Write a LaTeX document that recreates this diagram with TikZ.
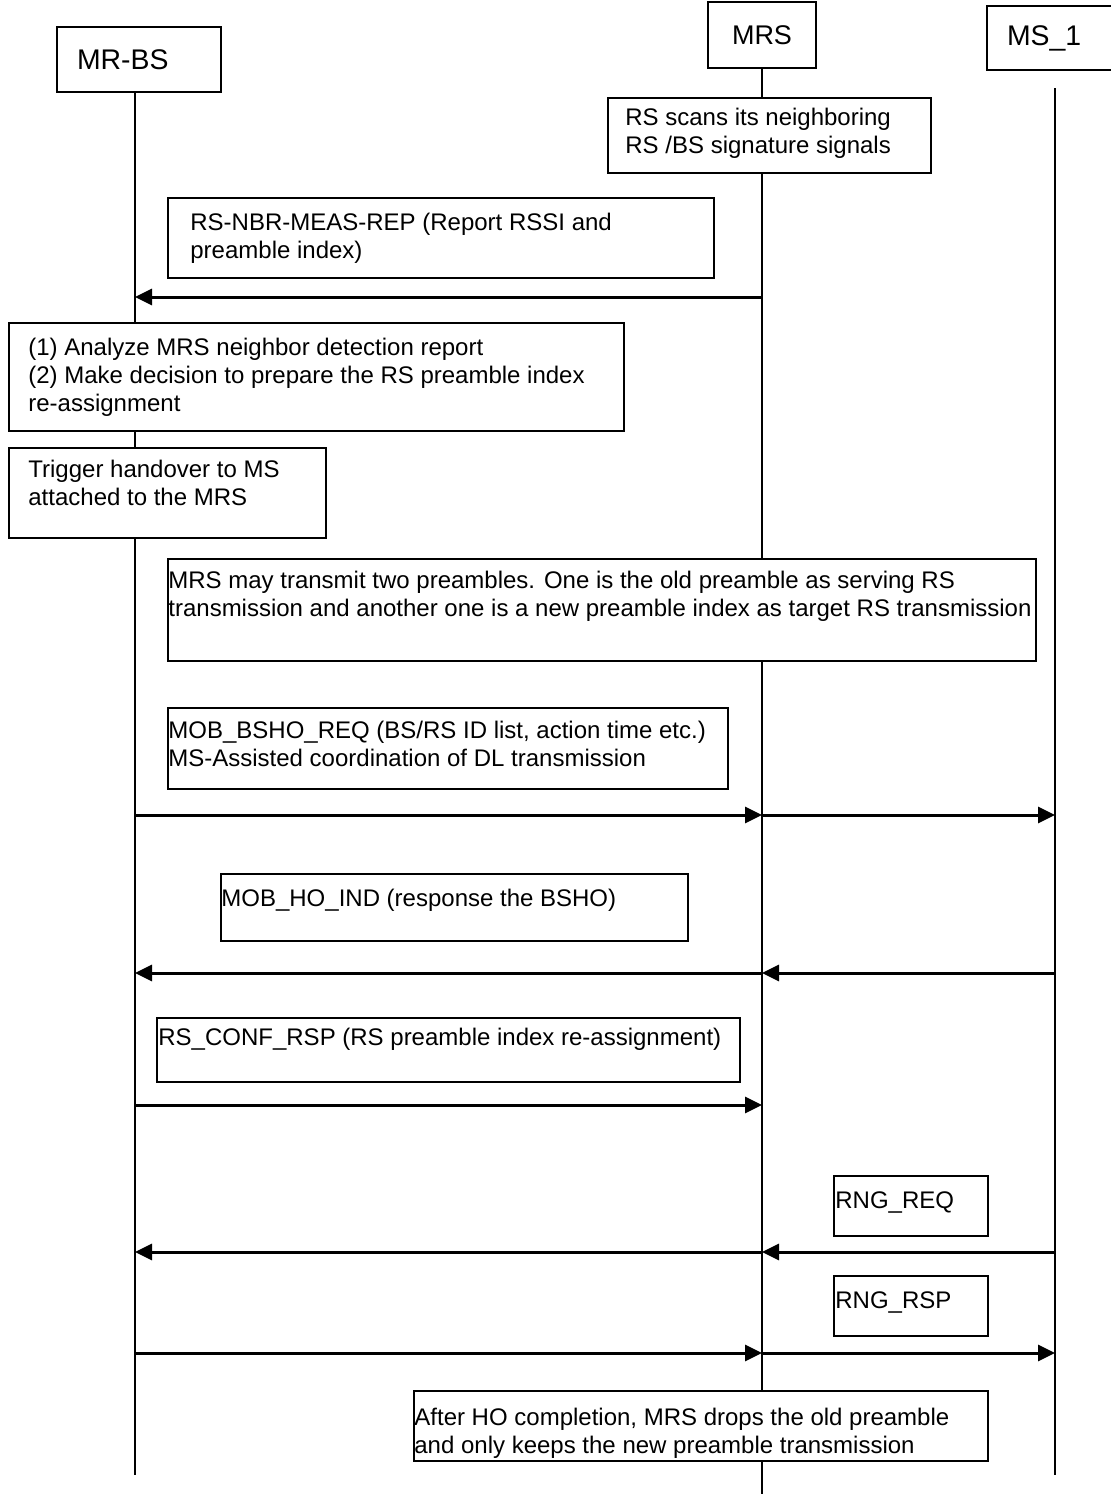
\documentclass[tikz,border=0pt]{standalone}
\usepackage{fontspec}
\setmainfont{Liberation Sans}
\usetikzlibrary{arrows.meta}

\tikzstyle{entity} = [rectangle, draw=black, line width=0.8pt, fill=white, inner sep=0pt, font=\fontsize{13.5}{16}\selectfont]
\tikzstyle{entityl} = [entity, inner xsep=10pt, align=left, font=\fontsize{14.2}{16}\selectfont]
\tikzstyle{note} = [rectangle, draw=black, line width=0.8pt, fill=white, anchor=north west, inner sep=0pt]
\tikzstyle{txt} = [anchor=north west, inner sep=0pt, align=left, font=\fontsize{12}{14}\selectfont]
\tikzstyle{life} = [line width=0.7pt]
\tikzstyle{msg} = [line width=1.5pt, -{Triangle[length=8.5pt,width=8pt]}]

\begin{document}
\begin{tikzpicture}[x=0.5pt, y=-0.5pt]
\useasboundingbox (0,0) rectangle (1110,1494);

% entities
\node (mrbs) [entityl, text width=62pt, minimum height=32.5pt] at (139,59.5) {MR-BS};
\node (mrs) [entity, minimum width=54pt, minimum height=33pt] at (762,35) {MRS};
\node (ms1) [entityl, text width=47pt, minimum height=32pt] at (1054,38) {MS\_1};

% lifelines
\coordinate (bsend) at (135,1475);
\coordinate (mrsend) at (762,1494);
\coordinate (ms1top) at (1055,88);
\coordinate (ms1end) at (1055,1475);
\draw [life] (mrbs.south -| bsend) -- (bsend);
\draw [life] (mrs.south) -- (mrsend);
\draw [life] (ms1top) -- (ms1end);

% notes
\node (scan) [note, minimum width=161.5pt, minimum height=37.5pt] at (607,97) {};
\node [txt] at ([shift={(18,11)}]scan.north west) {RS scans its neighboring\\RS /BS signature signals};

\node (nbr) [note, minimum width=273pt, minimum height=40pt] at (167,197) {};
\node [txt] at ([shift={(23,16)}]nbr.north west) {RS-NBR-MEAS-REP (Report RSSI and\\preamble index)};

\node (analyze) [note, minimum width=307.5pt, minimum height=54pt] at (8,322) {};
\node [txt] at ([shift={(20,16)}]analyze.north west) {(1) Analyze MRS neighbor detection report\\(2) Make decision to prepare the RS preamble index\\re-assignment};

\node (trigger) [note, minimum width=158.5pt, minimum height=45pt] at (8,447) {};
\node [txt] at ([shift={(20,13)}]trigger.north west) {Trigger handover to MS\\attached to the MRS};

\node (twopre) [note, minimum width=434pt, minimum height=51pt] at (167,558) {};
\node [txt] at ([shift={(1,13)}]twopre.north west) {MRS may transmit two preambles. One is the old preamble as serving RS\\transmission and another one is a new preamble index as target RS transmission};

\node (bsho) [note, minimum width=280pt, minimum height=40.5pt] at (167,707) {};
\node [txt] at ([shift={(1,14)}]bsho.north west) {MOB\_BSHO\_REQ (BS/RS ID list, action time etc.)\\MS-Assisted coordination of DL transmission};

\node (hoind) [note, minimum width=233.5pt, minimum height=33.5pt] at (220,873) {};
\node [txt] at ([shift={(1,16)}]hoind.north west) {MOB\_HO\_IND (response the BSHO)};

\node (conf) [note, minimum width=291.5pt, minimum height=32pt] at (156,1017) {};
\node [txt] at ([shift={(2,11)}]conf.north west) {RS\_CONF\_RSP (RS preamble index re-assignment)};

\node (rngreq) [note, minimum width=77pt, minimum height=30pt] at (833,1175) {};
\node [txt] at ([shift={(2,16)}]rngreq.north west) {RNG\_REQ};

\node (rngrsp) [note, minimum width=77pt, minimum height=30pt] at (833,1275) {};
\node [txt] at ([shift={(2,16)}]rngrsp.north west) {RNG\_RSP};

\node (after) [note, minimum width=287pt, minimum height=35pt] at (413,1390) {};
\node [txt] at ([shift={(1,18)}]after.north west) {After HO completion, MRS drops the old preamble\\and only keeps the new preamble transmission};

% messages
\coordinate (m1) at (0,297);
\coordinate (m2) at (0,815);
\coordinate (m3) at (0,973);
\coordinate (m4) at (0,1105);
\coordinate (m5) at (0,1252);
\coordinate (m6) at (0,1353);

\draw [msg] (mrs |- m1) -- (bsend |- m1);
\draw [msg] (bsend |- m2) -- (mrs |- m2);
\draw [msg] (mrs |- m2) -- (ms1end |- m2);
\draw [msg] (ms1end |- m3) -- (mrs |- m3);
\draw [msg] (mrs |- m3) -- (bsend |- m3);
\draw [msg] (bsend |- m4) -- (mrs |- m4);
\draw [msg] (ms1end |- m5) -- (mrs |- m5);
\draw [msg] (mrs |- m5) -- (bsend |- m5);
\draw [msg] (bsend |- m6) -- (mrs |- m6);
\draw [msg] (mrs |- m6) -- (ms1end |- m6);
\end{tikzpicture}
\end{document}
